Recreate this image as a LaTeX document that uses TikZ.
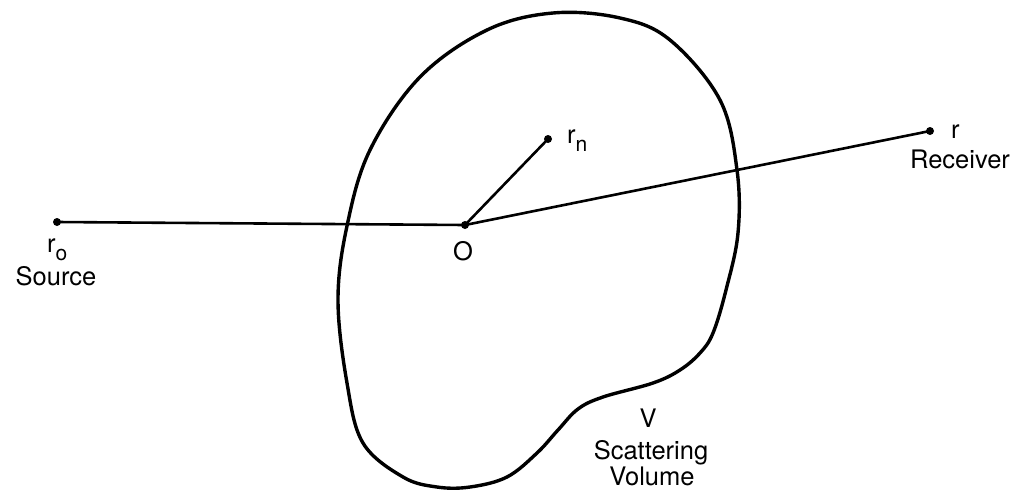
\documentclass[tikz,border=0pt]{standalone}
\usepackage{fontspec}
\setmainfont{TeX Gyre Heros}
\newcommand\mysub[1]{\raisebox{-0.32em}{\fontsize{21}{21}\selectfont #1}}
\begin{document}
\begin{tikzpicture}[x=1pt,y=-1pt,
  dot/.style={circle,fill=black,inner sep=0pt,minimum size=8pt},
  lbl/.style={inner sep=0pt,anchor=base,font=\fontsize{25.5}{30}\selectfont},
  lblw/.style={lbl,anchor=base west},
  ray/.style={line width=2.6pt},
  blob/.style={line width=3.4pt,line join=round}]
\useasboundingbox (0,0) rectangle (1014,490);
% scattering volume
\draw[blob] plot[smooth cycle,tension=0.6] coordinates {
 (553,13) (620,18) (670,40) (720,100) (737,170) (738,233) (726,290) (713,333)
 (700,353) (680,370) (653,383) (603,397) (578,409) (558,430) (537,453) (507,477)
 (470,487) (437,487) (403,477) (363,443) (347,383) (338,300) (347,226) (370,150)
 (420,77) (487,30)};
% points
\node[dot] (src) at (57,222) {};
\node[dot] (O) at (465,225) {};
\node[dot] (rn) at (548,139) {};
\node[dot] (rcv) at (930,131) {};
% rays
\draw[ray] (src.center) -- (O.center);
\draw[ray] (O.center) -- (rn.center);
\draw[ray] (O.center) -- (rcv.center);
% labels
\node[lblw] (lro) at (47,252) {r\mysub{o}};
\node[lbl] (lsrc) at (56,285) {Source};
\node[lbl] (lO) at (463,260) {O};
\node[lblw] (lrn) at (567,143) {r\mysub{n}};
\node[lblw] (lr) at (951,138) {r};
\node[lbl] (lrcv) at (960,168) {Receiver};
\node[lbl] (lV) at (648,427) {V};
\node[lbl] (lsc) at (651,459) {Scattering};
\node[lbl] (lvol) at (652,485) {Volume};
\end{tikzpicture}
\end{document}
